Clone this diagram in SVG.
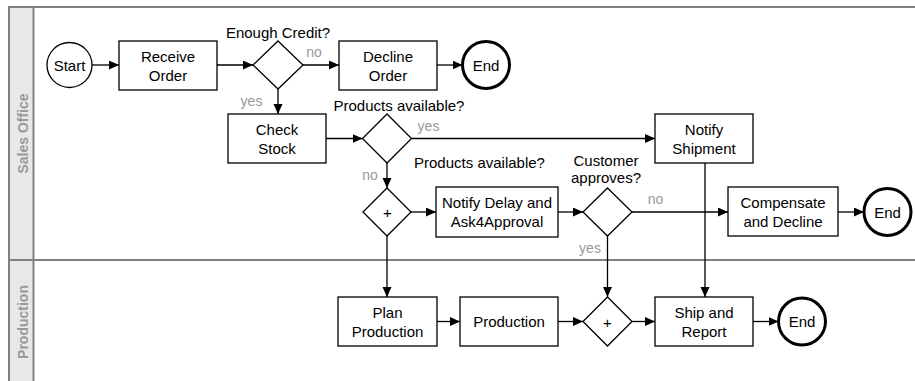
<svg xmlns="http://www.w3.org/2000/svg" width="915" height="381" viewBox="0 0 915 381">
<style>
.n{fill:#fff;stroke:#000;stroke-width:1.3}
.e{fill:#fff;stroke:#000;stroke-width:3}
.t{font-family:"Liberation Sans",Arial,sans-serif;font-size:15px;fill:#000;text-anchor:middle}
.g{font-family:"Liberation Sans",Arial,sans-serif;font-size:14px;fill:#999;text-anchor:middle}
.l{font-family:"Liberation Sans",Arial,sans-serif;font-size:14px;font-weight:bold;fill:#999;text-anchor:middle}
.c{fill:none;stroke:#000;stroke-width:1.3;marker-end:url(#a)}
.p{fill:none;stroke:#808080;stroke-width:2}
</style>
<defs>
<marker id="a" markerUnits="userSpaceOnUse" markerWidth="11" markerHeight="10" refX="10" refY="4.5" orient="auto">
<path d="M0,0 L10,4.5 L0,9 z" fill="#000"/>
</marker>
</defs>
<rect width="915" height="381" fill="#fff"/>
<g id="pool">
<rect x="9" y="7" width="24.5" height="380" fill="#e8e8e8"/>
<rect class="p" x="9" y="7" width="920" height="390"/>
<line class="p" x1="33.5" y1="7" x2="33.5" y2="381"/>
<line class="p" x1="9" y1="260" x2="915" y2="260"/>
<text class="l" transform="translate(27.5,133.5) rotate(-90)">Sales Office</text>
<text class="l" transform="translate(27.5,322) rotate(-90)">Production</text>
</g>
<g id="connectors">
<line class="c" x1="92" y1="65" x2="119" y2="65"/>
<line class="c" x1="217" y1="65" x2="253" y2="65"/>
<line class="c" x1="303" y1="65" x2="339" y2="65"/>
<line class="c" x1="437" y1="65" x2="462.5" y2="65"/>
<line class="c" x1="278" y1="89" x2="278" y2="114"/>
<line class="c" x1="326" y1="138.5" x2="362.5" y2="138.5"/>
<line class="c" x1="411.5" y1="138.5" x2="655" y2="138.5"/>
<line class="c" x1="387" y1="163" x2="387" y2="188"/>
<line class="c" x1="411" y1="212" x2="436" y2="212"/>
<line class="c" x1="558" y1="212" x2="583" y2="212"/>
<line class="c" x1="632" y1="212" x2="728" y2="212"/>
<line class="c" x1="838" y1="212" x2="864" y2="212"/>
<line class="c" x1="607.5" y1="236" x2="607.5" y2="297"/>
<line class="c" x1="387" y1="236" x2="387" y2="297"/>
<line class="c" x1="437" y1="321.5" x2="460" y2="321.5"/>
<line class="c" x1="558" y1="321.5" x2="583" y2="321.5"/>
<line class="c" x1="632" y1="321.5" x2="655" y2="321.5"/>
<line class="c" x1="705" y1="163" x2="705" y2="297"/>
<line class="c" x1="753" y1="321.5" x2="778.5" y2="321.5"/>
<text class="g" x="314" y="57">no</text>
<text class="g" x="251.5" y="106">yes</text>
<text class="g" x="428.5" y="131">yes</text>
<text class="g" x="370" y="180">no</text>
<text class="g" x="655.5" y="204">no</text>
<text class="g" x="590" y="253">yes</text>
</g>
<g id="start"><circle class="n" cx="69.5" cy="65" r="22.5"/><text class="t" x="69.5" y="70.5">Start</text></g>
<g id="receive"><rect class="n" x="119" y="41" width="98" height="49"/><text class="t" x="168" y="61.5">Receive</text><text class="t" x="168" y="80.5">Order</text></g>
<g id="credit"><polygon class="n" points="278,41 303,65 278,89 253,65"/><text class="t" x="278" y="38">Enough Credit?</text></g>
<g id="decline"><rect class="n" x="339" y="41" width="98" height="49"/><text class="t" x="388" y="61.5">Decline</text><text class="t" x="388" y="80.5">Order</text></g>
<g id="end1"><circle class="e" cx="486" cy="65" r="23.5"/><text class="t" x="486" y="70.5">End</text></g>
<g id="check"><rect class="n" x="228" y="114" width="98" height="49"/><text class="t" x="277" y="134.5">Check</text><text class="t" x="277" y="153.5">Stock</text></g>
<g id="avail"><polygon class="n" points="387,114 411.5,138.5 387,163 362.5,138.5"/><text class="t" x="399" y="111">Products available?</text></g>
<g id="notifyship"><rect class="n" x="655" y="114" width="98" height="49"/><text class="t" x="704" y="134.5">Notify</text><text class="t" x="704" y="153.5">Shipment</text></g>
<g id="fork"><polygon class="n" points="387,188 411,212 387,236 363,212"/><text class="t" x="387.5" y="218">+</text><text class="t" x="479.5" y="168">Products available?</text></g>
<g id="notifydelay"><rect class="n" x="436" y="187" width="122" height="50"/><text class="t" x="497" y="208">Notify Delay and</text><text class="t" x="497" y="227">Ask4Approval</text></g>
<g id="approve"><polygon class="n" points="607.5,188 632,212 607.5,236 583,212"/><text class="t" x="606" y="166">Customer</text><text class="t" x="606" y="183">approves?</text></g>
<g id="compensate"><rect class="n" x="728" y="187" width="110" height="49"/><text class="t" x="783" y="207.5">Compensate</text><text class="t" x="783" y="226.5">and Decline</text></g>
<g id="end2"><circle class="e" cx="887.5" cy="212" r="23.5"/><text class="t" x="887.5" y="217.5">End</text></g>
<g id="plan"><rect class="n" x="338" y="297" width="99" height="49"/><text class="t" x="387.5" y="317.5">Plan</text><text class="t" x="387.5" y="336.5">Production</text></g>
<g id="production"><rect class="n" x="460" y="297" width="98" height="49"/><text class="t" x="509" y="327">Production</text></g>
<g id="join"><polygon class="n" points="607.5,297 632,321.5 607.5,346 583,321.5"/><text class="t" x="607.5" y="327.5">+</text></g>
<g id="ship"><rect class="n" x="655" y="297" width="98" height="49"/><text class="t" x="704" y="317.5">Ship and</text><text class="t" x="704" y="336.5">Report</text></g>
<g id="end3"><circle class="e" cx="802" cy="321.5" r="23.5"/><text class="t" x="802" y="327">End</text></g>
</svg>
